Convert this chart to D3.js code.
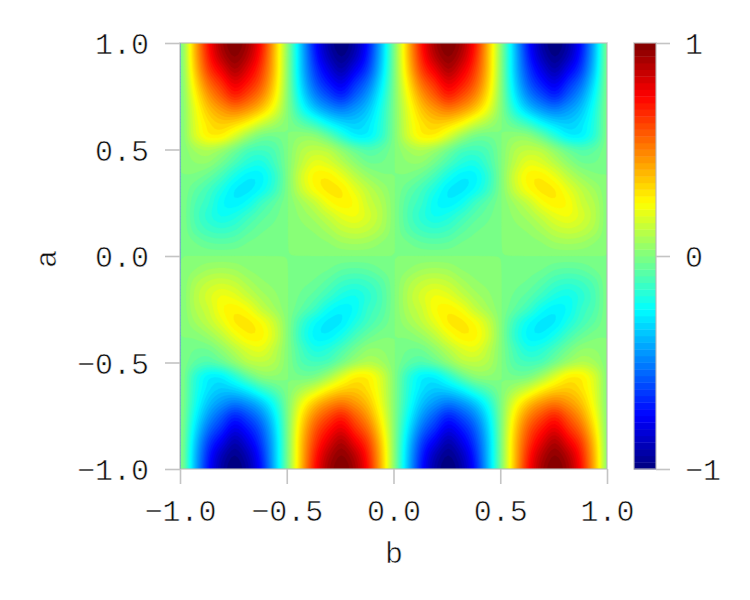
<!DOCTYPE html>
<html><head><meta charset="utf-8">
<style>
html,body{margin:0;padding:0;background:#fff}
svg{display:block}
text{font-family:"Liberation Mono","DejaVu Sans Mono",monospace;font-size:30px;fill:#111;stroke:#fff;stroke-width:.55px}
.domain{display:none}
.tick line{stroke:#c4c4c4;stroke-width:1.6px}
</style>
<script src="https://cdn.jsdelivr.net/npm/d3@7"></script>
</head><body>
<svg id="c" width="750" height="600"></svg>
<script>
const aTicks=[-1,-0.5,0,0.5,1];
const bTicks=[-1,-0.5,0,0.5,1];
const colorTicks=[-1,0,1];
const xLabel="b", yLabel="a";
const colorStops=[-1,-0.75,-0.25,0.25,0.75,1];
const colorRange=["#00007f","#0000ff","#00ffff","#ffff00","#ff0000","#7f0000"];
// z sampled from a=1 (first row) to a=-1 (last row), b=-1..1 (33 x 33)
const zRows=[
[0,.38,.71,.92,1,.92,.71,.38,0,-.38,-.71,-.92,-1,-.92,-.71,-.38,0,.38,.71,.92,1,.92,.71,.38,0,-.38,-.71,-.92,-1,-.92,-.71,-.38,0],
[0,.37,.68,.88,.97,.88,.68,.37,0,-.37,-.68,-.88,-.97,-.88,-.68,-.37,0,.37,.68,.88,.97,.88,.68,.37,0,-.37,-.68,-.88,-.97,-.88,-.68,-.37,0],
[0,.34,.62,.78,.90,.80,.63,.36,0,-.36,-.63,-.80,-.90,-.78,-.62,-.34,0,.34,.62,.78,.90,.80,.63,.36,0,-.36,-.63,-.80,-.90,-.78,-.62,-.34,0],
[0,.29,.53,.67,.79,.71,.57,.33,0,-.33,-.57,-.71,-.79,-.67,-.53,-.29,0,.29,.53,.67,.79,.71,.57,.33,0,-.33,-.57,-.71,-.79,-.67,-.53,-.29,0],
[0,.24,.44,.57,.67,.60,.48,.28,0,-.28,-.48,-.60,-.67,-.57,-.44,-.24,0,.24,.44,.57,.67,.60,.48,.28,0,-.28,-.48,-.60,-.67,-.57,-.44,-.24,0],
[0,.20,.36,.45,.50,.45,.35,.20,0,-.20,-.35,-.45,-.50,-.45,-.36,-.20,0,.20,.36,.45,.50,.45,.35,.20,0,-.20,-.35,-.45,-.50,-.45,-.36,-.20,0],
[0,.18,.30,.35,.33,.26,.16,.08,0,-.08,-.16,-.26,-.33,-.35,-.30,-.18,0,.18,.30,.35,.33,.26,.16,.08,0,-.08,-.16,-.26,-.33,-.35,-.30,-.18,0],
[0,.16,.26,.26,.17,.06,-.02,-.03,0,.03,.02,-.06,-.17,-.26,-.26,-.16,0,.16,.26,.26,.17,.06,-.02,-.03,0,.03,.02,-.06,-.17,-.26,-.26,-.16,0],
[0,.07,.10,.06,-.02,-.10,-.12,-.09,0,.09,.12,.10,.02,-.06,-.10,-.07,0,.07,.10,.06,-.02,-.10,-.12,-.09,0,.09,.12,.10,.02,-.06,-.10,-.07,0],
[0,.03,.03,-.03,-.11,-.18,-.20,-.12,0,.12,.20,.18,.11,.03,-.03,-.03,0,.03,.03,-.03,-.11,-.18,-.20,-.12,0,.12,.20,.18,.11,.03,-.03,-.03,0],
[0,-.01,-.05,-.12,-.21,-.27,-.26,-.16,0,.16,.26,.27,.21,.12,.05,.01,0,-.01,-.05,-.12,-.21,-.27,-.26,-.16,0,.16,.26,.27,.21,.12,.05,.01,0],
[0,-.06,-.12,-.20,-.28,-.29,-.24,-.14,0,.14,.24,.29,.28,.20,.12,.06,0,-.06,-.12,-.20,-.28,-.29,-.24,-.14,0,.14,.24,.29,.28,.20,.12,.06,0],
[0,-.09,-.15,-.24,-.27,-.23,-.14,-.07,0,.07,.14,.23,.27,.24,.15,.09,0,-.09,-.15,-.24,-.27,-.23,-.14,-.07,0,.07,.14,.23,.27,.24,.15,.09,0],
[0,-.10,-.17,-.22,-.20,-.14,-.08,-.04,0,.04,.08,.14,.20,.22,.17,.10,0,-.10,-.17,-.22,-.20,-.14,-.08,-.04,0,.04,.08,.14,.20,.22,.17,.10,0],
[0,-.08,-.13,-.15,-.13,-.08,-.04,-.02,0,.02,.04,.08,.13,.15,.13,.08,0,-.08,-.13,-.15,-.13,-.08,-.04,-.02,0,.02,.04,.08,.13,.15,.13,.08,0],
[0,-.03,-.06,-.07,-.06,-.03,-.015,-.006,0,.006,.015,.03,.06,.07,.06,.03,0,-.03,-.06,-.07,-.06,-.03,-.015,-.006,0,.006,.015,.03,.06,.07,.06,.03,0],
[0,0,0,0,0,0,0,0,0,0,0,0,0,0,0,0,0,0,0,0,0,0,0,0,0,0,0,0,0,0,0,0,0],
[0,.03,.06,.07,.06,.03,.015,.006,0,-.006,-.015,-.03,-.06,-.07,-.06,-.03,0,.03,.06,.07,.06,.03,.015,.006,0,-.006,-.015,-.03,-.06,-.07,-.06,-.03,0],
[0,.08,.13,.15,.13,.08,.04,.02,0,-.02,-.04,-.08,-.13,-.15,-.13,-.08,0,.08,.13,.15,.13,.08,.04,.02,0,-.02,-.04,-.08,-.13,-.15,-.13,-.08,0],
[0,.10,.17,.22,.20,.14,.08,.04,0,-.04,-.08,-.14,-.20,-.22,-.17,-.10,0,.10,.17,.22,.20,.14,.08,.04,0,-.04,-.08,-.14,-.20,-.22,-.17,-.10,0],
[0,.09,.15,.24,.27,.23,.14,.07,0,-.07,-.14,-.23,-.27,-.24,-.15,-.09,0,.09,.15,.24,.27,.23,.14,.07,0,-.07,-.14,-.23,-.27,-.24,-.15,-.09,0],
[0,.06,.12,.20,.28,.29,.24,.14,0,-.14,-.24,-.29,-.28,-.20,-.12,-.06,0,.06,.12,.20,.28,.29,.24,.14,0,-.14,-.24,-.29,-.28,-.20,-.12,-.06,0],
[0,.01,.05,.12,.21,.27,.26,.16,0,-.16,-.26,-.27,-.21,-.12,-.05,-.01,0,.01,.05,.12,.21,.27,.26,.16,0,-.16,-.26,-.27,-.21,-.12,-.05,-.01,0],
[0,-.03,-.03,.03,.11,.18,.20,.12,0,-.12,-.20,-.18,-.11,-.03,.03,.03,0,-.03,-.03,.03,.11,.18,.20,.12,0,-.12,-.20,-.18,-.11,-.03,.03,.03,0],
[0,-.07,-.10,-.06,.02,.10,.12,.09,0,-.09,-.12,-.10,-.02,.06,.10,.07,0,-.07,-.10,-.06,.02,.10,.12,.09,0,-.09,-.12,-.10,-.02,.06,.10,.07,0],
[0,-.16,-.26,-.26,-.17,-.06,.02,.03,0,-.03,-.02,.06,.17,.26,.26,.16,0,-.16,-.26,-.26,-.17,-.06,.02,.03,0,-.03,-.02,.06,.17,.26,.26,.16,0],
[0,-.18,-.30,-.35,-.33,-.26,-.16,-.08,0,.08,.16,.26,.33,.35,.30,.18,0,-.18,-.30,-.35,-.33,-.26,-.16,-.08,0,.08,.16,.26,.33,.35,.30,.18,0],
[0,-.20,-.36,-.45,-.50,-.45,-.35,-.20,0,.20,.35,.45,.50,.45,.36,.20,0,-.20,-.36,-.45,-.50,-.45,-.35,-.20,0,.20,.35,.45,.50,.45,.36,.20,0],
[0,-.24,-.44,-.57,-.67,-.60,-.48,-.28,0,.28,.48,.60,.67,.57,.44,.24,0,-.24,-.44,-.57,-.67,-.60,-.48,-.28,0,.28,.48,.60,.67,.57,.44,.24,0],
[0,-.29,-.53,-.67,-.79,-.71,-.57,-.33,0,.33,.57,.71,.79,.67,.53,.29,0,-.29,-.53,-.67,-.79,-.71,-.57,-.33,0,.33,.57,.71,.79,.67,.53,.29,0],
[0,-.34,-.62,-.78,-.90,-.80,-.63,-.36,0,.36,.63,.80,.90,.78,.62,.34,0,-.34,-.62,-.78,-.90,-.80,-.63,-.36,0,.36,.63,.80,.90,.78,.62,.34,0],
[0,-.37,-.68,-.88,-.97,-.88,-.68,-.37,0,.37,.68,.88,.97,.88,.68,.37,0,-.37,-.68,-.88,-.97,-.88,-.68,-.37,0,.37,.68,.88,.97,.88,.68,.37,0],
[0,-.38,-.71,-.92,-1,-.92,-.71,-.38,0,.38,.71,.92,1,.92,.71,.38,0,-.38,-.71,-.92,-1,-.92,-.71,-.38,0,.38,.71,.92,1,.92,.71,.38,0]
];
const svg=d3.select("#c");
const x=d3.scaleLinear().domain([-1,1]).range([180,607]);
const y=d3.scaleLinear().domain([-1,1]).range([469,43]);
const color=d3.scaleLinear().domain(colorStops).range(colorRange);
const LEVELS=64;
const edges=d3.range(LEVELS).map(i=>-1+2*i/LEVELS);

// Smooth shading: the surface between table samples is drawn through a spline (rendering only)
const SUB=4;
function cr(p0,p1,p2,p3,t){return .5*(2*p1+(p2-p0)*t+(2*p0-5*p1+4*p2-p3)*t*t+(3*p1-p0-3*p2+p3)*t*t*t);}
function resample(line){
  const out=[],n=line.length;
  for(let i=0;i<n-1;i++)for(let s=0;s<SUB;s++){
    out.push(cr(line[Math.max(i-1,0)],line[i],line[i+1],line[Math.min(i+2,n-1)],s/SUB));
  }
  out.push(line[n-1]);return out;
}
const wide=zRows.map(resample);
const fine=d3.transpose(d3.transpose(wide).map(resample));
const nx=fine[0].length, ny=fine.length;

const ix=d3.scaleLinear().domain([.5,nx-.5]).range(x.domain()).clamp(true);
const iy=d3.scaleLinear().domain([.5,ny-.5]).range([1,-1]).clamp(true);
// levels nudged just off the exact band edges so zero-valued sample lines do not draw as hairlines
const levelCuts=edges.map((e,i)=>i===0?-1.01:e+1e-4);
const contours=d3.contours().size([nx,ny]).thresholds(levelCuts).smooth(true);
const path=d3.geoPath(d3.geoTransform({point(px,py){this.stream.point(x(ix(px)),y(iy(py)));}}));
svg.append("clipPath").attr("id","plot").append("rect").attr("x",x(-1)).attr("y",y(1)).attr("width",x(1)-x(-1)).attr("height",y(-1)-y(1));
const plot=svg.append("g").attr("clip-path","url(#plot)");
plot.append("rect").attr("x",x(-1)).attr("y",y(1)).attr("width",x(1)-x(-1)).attr("height",y(-1)-y(1)).attr("fill",color(0));
plot.append("g").attr("transform","translate(1.3,0)").selectAll("path").data(contours(fine.flat())).join("path")
  .attr("d",path).attr("fill",d=>color(d.value+1/LEVELS)).attr("stroke",d=>color(d.value+1/LEVELS)).attr("stroke-width",.3);
// frame
svg.append("rect").attr("x",x(-1)).attr("y",y(1)).attr("width",x(1)-x(-1)).attr("height",y(-1)-y(1))
  .attr("fill","none").attr("stroke","#b8b8b8").attr("stroke-opacity",.75).attr("stroke-width",1.5);
// axes
const fmt=d3.format(".1f");
svg.append("g").attr("transform",`translate(0,${y(-1)})`).call(d3.axisBottom(x).tickValues(bTicks).tickFormat(fmt).tickSize(15).tickPadding(15.5));
const ay=svg.append("g").attr("transform",`translate(${x(-1)},0)`).call(d3.axisLeft(y).tickValues(aTicks).tickFormat(fmt).tickSize(15).tickPadding(16));
ay.selectAll("text").attr("dy",".36em");
// colourbar
const cy=d3.scaleLinear().domain([-1,1]).range([469,43]);
svg.append("g").selectAll("rect").data(d3.range(LEVELS)).join("rect")
  .attr("x",634).attr("width",22).attr("y",i=>cy(edges[i]+2/LEVELS)).attr("height",i=>cy(edges[i])-cy(edges[i]+2/LEVELS)+.4)
  .attr("fill",i=>color(edges[i]+1/LEVELS));
svg.append("rect").attr("x",634).attr("y",43).attr("width",22).attr("height",426).attr("fill","none").attr("stroke","#b8b8b8").attr("stroke-opacity",.75).attr("stroke-width",1.5);
const ac=svg.append("g").attr("transform","translate(656,0)").call(d3.axisRight(cy).tickValues(colorTicks).tickFormat(d3.format("d")).tickSize(14).tickPadding(15));
ac.selectAll("text").attr("dy",".34em");
svg.selectAll("g").attr("font-family",null).attr("font-size",null);
svg.append("text").attr("x",394).attr("y",563).attr("text-anchor","middle").text(xLabel);
svg.append("text").attr("transform","translate(56,259) rotate(-90)").attr("text-anchor","middle").text(yLabel);
</script>
</body></html>
